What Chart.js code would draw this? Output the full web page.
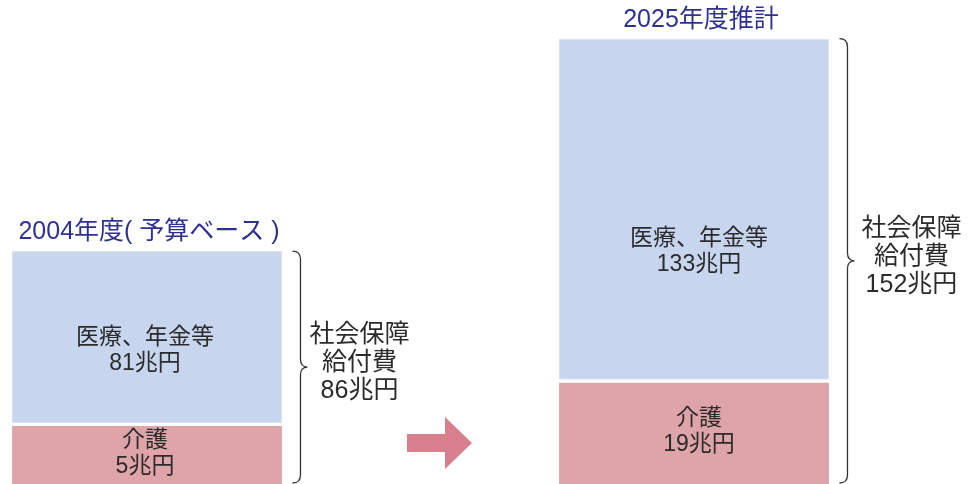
<!DOCTYPE html>
<html>
<head>
<meta charset="utf-8">
<script src="https://cdn.jsdelivr.net/npm/chart.js@4"></script>
<style>
  html, body { margin: 0; padding: 0; background: #fff; }
  #wrap { width: 976px; height: 484px; position: relative; }
</style>
</head>
<body>
<div id="wrap"><canvas id="shakai" width="976" height="484"></canvas></div>
<script>
// titles over the two bars (middle slot is the arrow)
const periods = ["2004年度( 予算ベース )", "", "2025年度推計"];
// amounts printed in the bars (兆円)
const medicalValues = [81, null, 133];
const careValues = [5, null, 19];
const totalValues = [86, null, 152];
// segment sizes as drawn in the picture (schematic, not to scale), 兆円 units
const medicalDrawn = [58.6, null, 116.3];
const careDrawn = [20.8, null, 35.5];

const FONT = "'Liberation Sans', 'Noto Sans CJK JP', sans-serif";
const TEXT = "#2b2b2b";
const TITLE = "#2e3192";

function drawBrace(ctx, x, top, bottom, tipX) {
  const mid = (top + bottom) / 2;
  const r = 8;
  ctx.beginPath();
  ctx.moveTo(x - 8, top);
  ctx.quadraticCurveTo(x, top, x, top + r);
  ctx.lineTo(x, mid - r);
  ctx.quadraticCurveTo(x, mid, tipX, mid);
  ctx.quadraticCurveTo(x, mid, x, mid + r);
  ctx.lineTo(x, bottom - r);
  ctx.quadraticCurveTo(x, bottom, x - 8, bottom);
  ctx.stroke();
}

const labelPlugin = {
  id: "labelPlugin",
  afterDatasetsDraw(chart, args, opts) {
    const ctx = chart.ctx;
    const care = chart.getDatasetMeta(0).data;
    const med = chart.getDatasetMeta(1).data;
    ctx.save();
    ctx.textAlign = "center";
    ctx.textBaseline = "middle";

    for (let i = 0; i < periods.length; i++) {
      if (medicalValues[i] == null) continue;
      const m = med[i], c = care[i];
      const x = m.x;
      const top = m.y;
      const medBottom = c.y;
      const bottom = c.base;
      const right = x + m.width / 2;

      // title
      ctx.fillStyle = TITLE;
      ctx.font = "25px " + FONT;
      ctx.fillText(periods[i], x + opts.titleDx[i], top - 18.5);

      // medical label
      ctx.fillStyle = TEXT;
      ctx.font = "23px " + FONT;
      const my = medBottom - (medBottom - top) * opts.medAnchor[i];
      ctx.fillText("医療、年金等", x + opts.textDx[i], my - 13);
      ctx.fillText(medicalValues[i] + "兆円", x + opts.textDx[i], my + 13);

      // care label
      const cy = (c.y + bottom) / 2;
      ctx.fillText("介護", x + opts.textDx[i], cy - 13);
      ctx.fillText(careValues[i] + "兆円", x + opts.textDx[i], cy + 13);

      // brace + total
      ctx.strokeStyle = "#333";
      ctx.lineWidth = 1.3;
      const bx = right + 18.5;
      drawBrace(ctx, bx, top, bottom - 1, bx + 7);
      const mid = (top + bottom) / 2;
      ctx.font = "25px " + FONT;
      ctx.fillStyle = TEXT;
      const lx = bx + opts.braceDx[i];
      ctx.fillText("社会保障", lx, mid - 32);
      ctx.fillText("給付費", lx, mid - 4);
      ctx.fillText(totalValues[i] + "兆円", lx, mid + 24);
    }

    // arrow in the middle slot
    const ax = chart.scales.x.getPixelForValue(1) - 13.5;
    const ay = chart.chartArea.bottom - 41;
    ctx.fillStyle = "#d77f8c";
    ctx.beginPath();
    ctx.moveTo(ax, ay - 9);
    ctx.lineTo(ax + 38, ay - 9);
    ctx.lineTo(ax + 38, ay - 26);
    ctx.lineTo(ax + 65, ay);
    ctx.lineTo(ax + 38, ay + 26);
    ctx.lineTo(ax + 38, ay + 9);
    ctx.lineTo(ax, ay + 9);
    ctx.closePath();
    ctx.fill();
    ctx.restore();
  }
};

const ctx = document.getElementById("shakai").getContext("2d");
window.myBar = new Chart(ctx, {
  type: "bar",
  data: {
    labels: periods,
    datasets: [
      {
        label: "介護",
        data: careDrawn,
        backgroundColor: "#dea4aa",
        borderColor: "#ffffff",
        borderWidth: { top: 3, left: 0, right: 0, bottom: 0 },
        borderSkipped: false,
        categoryPercentage: 1,
        barPercentage: 0.987,
      },
      {
        label: "医療、年金等",
        data: medicalDrawn,
        backgroundColor: "#c8d5ee",
        borderColor: "#dcdfe6",
        borderWidth: 1,
        borderSkipped: false,
        categoryPercentage: 1,
        barPercentage: 0.987,
      },
    ],
  },
  options: {
    responsive: false,
    animation: false,
    layout: { padding: { left: 10.25, right: 145.25, top: 0, bottom: 0 } },
    plugins: {
      legend: { display: false },
      tooltip: { enabled: false },
      labelPlugin: {
        titleDx: [2, 0, 7],
        textDx: [-2, 0, 5],
        medAnchor: [0.42, 0, 0.375],
        braceDx: [59, 0, 64],
      },
    },
    scales: {
      x: { display: false, stacked: true },
      y: { display: false, stacked: true, min: 0, max: 165 },
    },
  },
  plugins: [labelPlugin],
});
</script>
</body>
</html>
